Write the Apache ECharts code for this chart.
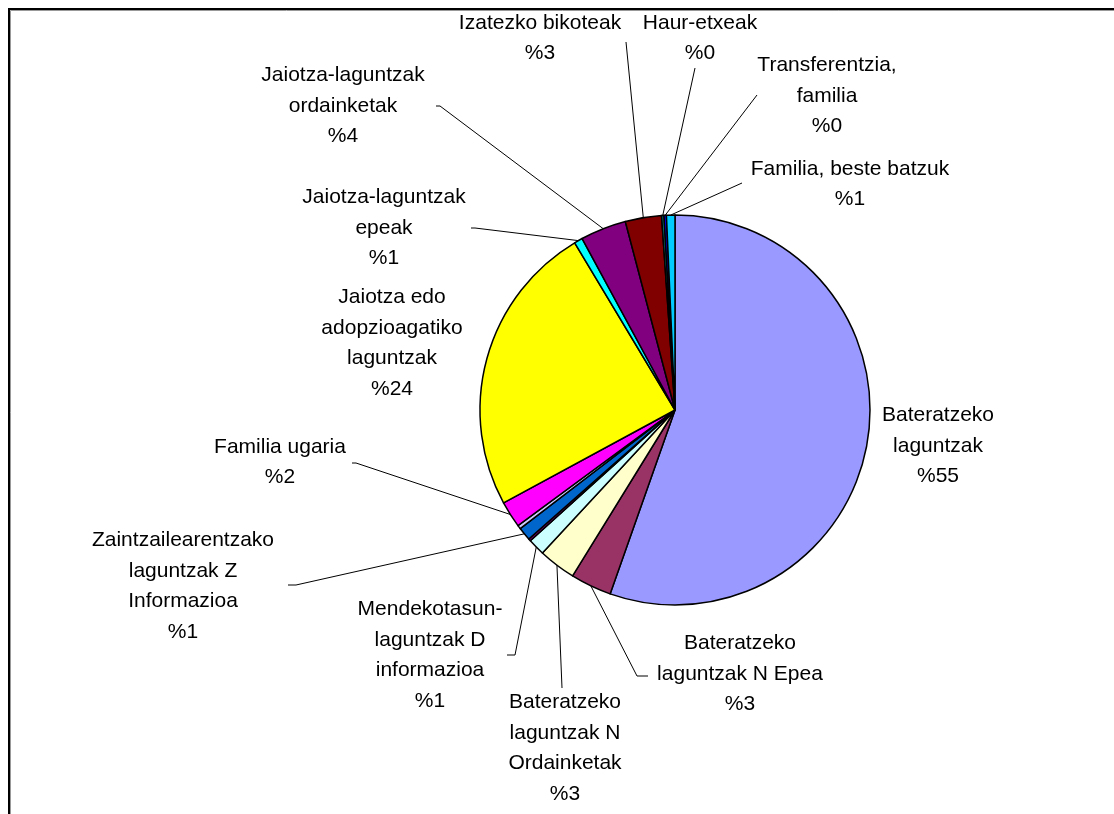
<!DOCTYPE html>
<html>
<head>
<meta charset="utf-8">
<script src="https://cdn.jsdelivr.net/npm/echarts@6/dist/echarts.min.js"></script>
<style>
html,body{margin:0;padding:0;background:#fff;}
#c{width:1114px;height:814px;}
</style>
</head>
<body>
<div id="c"></div>
<script>
// Slice names (clockwise from 12 o'clock)
var names = [
  "Bateratzeko\nlaguntzak",
  "Bateratzeko\nlaguntzak N Epea",
  "Bateratzeko\nlaguntzak N\nOrdainketak",
  "Mendekotasun-\nlaguntzak D\ninformazioa",
  "(gabe 1)",
  "Zaintzailearentzako\nlaguntzak Z\nInformazioa",
  "(gabe 2)",
  "Familia ugaria",
  "Jaiotza edo\nadopzioagatiko\nlaguntzak",
  "Jaiotza-laguntzak\nepeak",
  "Jaiotza-laguntzak\nordainketak",
  "Izatezko bikoteak",
  "Haur-etxeak",
  "Transferentzia,\nfamilia",
  "Familia, beste batzuk"
];
// Shares in percent
var values = [55.4, 3.4, 3.1, 1.4, 0.2, 1.1, 0.3, 2.2, 24.3, 0.7, 3.8, 3.0, 0.2, 0.2, 0.7];
var colors = ["#9999FF","#993366","#FFFFCC","#CCFFFF","#660066","#0066CC","#CCCCFF","#FF00FF",
              "#FFFF00","#00FFFF","#800080","#800000","#008080","#0000FF","#00CCFF"];
// whether each slice carries a data label
var labelled = [true,true,true,true,false,true,false,true,true,true,true,true,true,true,true];

// label placement (text centre, then leader line knee and end), kept separate from data
var labelPos = [
  {x:938, y:446},
  {x:740, y:674, knee:[637,676], end:[648,676]},
  {x:565, y:748, knee:[562,688], end:[562,688]},
  {x:430, y:655, knee:[515,655], end:[507,655]},
  null,
  {x:183, y:586, knee:[296,585], end:[288,585]},
  null,
  {x:280, y:462, knee:[356,463], end:[352,463]},
  {x:392, y:343},
  {x:384, y:228, knee:[475,228], end:[471,228]},
  {x:343, y:106, knee:[440,106], end:[436,106]},
  {x:540, y:38,  knee:[626,42],  end:[626,42]},
  {x:700, y:38,  knee:[695,68],  end:[695,68]},
  {x:827, y:96,  knee:[757,95],  end:[757,95]},
  {x:850, y:184, knee:[742,183], end:[742,183]}
];

var data = names.map(function(n, i){
  var p = labelPos[i];
  return {
    name: n,
    value: values[i],
    itemStyle: {color: colors[i]},
    label: {show: labelled[i]},
    labelLine: {show: !!(p && p.knee)}
  };
});

var chart = echarts.init(document.getElementById('c'), null, {renderer:'canvas'});
chart.setOption({
  animation: false,
  backgroundColor: '#ffffff',
  graphic: [
    {type:'polyline', shape:{points:[[9,830],[9,9],[1120,9]]}, style:{stroke:'#000', lineWidth:2, fill:null}, silent:true},
    {type:'polyline', shape:{points:[[10.5,830],[10.5,10.5],[1120,10.5]]}, style:{stroke:'#999', lineWidth:1, fill:null}, silent:true}
  ],
  series: [{
    type: 'pie',
    center: [675, 410],
    radius: 195,
    startAngle: 90,
    clockwise: true,
    avoidLabelOverlap: false,
    minShowLabelAngle: 0,
    silent: true,
    emphasis: {disabled: true},
    itemStyle: {borderColor: '#000', borderWidth: 1.5},
    label: {
      position: 'outside',
      color: '#000',
      fontFamily: 'Liberation Sans, Arial, sans-serif',
      fontSize: 21,
      lineHeight: 30.5,
      align: 'center',
      formatter: function(p){ return p.name + '\n%' + Math.round(p.percent); }
    },
    labelLine: {lineStyle: {color:'#000', width:1}, length: 10, length2: 10},
    labelLayout: function(params){
      var p = labelPos[params.dataIndex];
      if (!p) return {};
      var res = {x: p.x, y: p.y, align: 'center', verticalAlign: 'middle'};
      if (p.knee && params.labelLinePoints) {
        res.labelLinePoints = [params.labelLinePoints[0], p.knee, p.end];
      }
      return res;
    },
    data: data
  }]
});
</script>
</body>
</html>
